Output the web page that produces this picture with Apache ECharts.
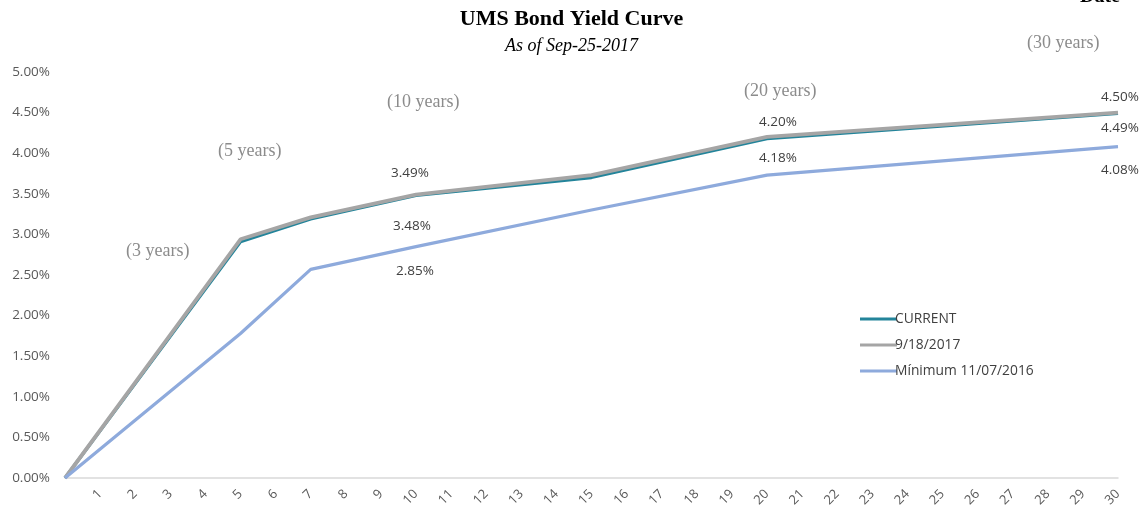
<!DOCTYPE html>
<html>
<head>
<meta charset="utf-8">
<script src="https://cdn.jsdelivr.net/npm/echarts@6/dist/echarts.min.js"></script>
<style>html,body{margin:0;padding:0;background:#fff}#c{width:1143px;height:512px}</style>
</head>
<body>
<div id="c"></div>
<script>
const maturities = [0, 5, 7, 10, 15, 20, 30];
const current = [0, 2.91, 3.19, 3.48, 3.70, 4.18, 4.49];
const prevWeek = [0, 2.94, 3.21, 3.49, 3.73, 4.20, 4.50];
const minimum = [0, 1.78, 2.57, 2.85, 3.30, 3.73, 4.08];
const seriesNames = ['CURRENT', '9/18/2017', 'Mínimum 11/07/2016'];
const labelCurrent = { 10: 'bottom', 20: 'bottom', 30: 'bottom' };
const labelPrev = { 10: 'top', 20: 'top', 30: 'top' };
const labelMin = { 10: 'bottom', 30: 'bottom' };
const annotations = ['(3 years)', '(5 years)', '(10 years)', '(20 years)', '(30 years)'];

const labelStyle = { fontFamily: 'Open Sans', fontSize: 13.5, color: '#404040' };
function build(vals, labels, offsets) {
  return maturities.map((m, i) => {
    const item = { value: [m, vals[i]] };
    if (labels[m]) {
      item.label = Object.assign({ show: true, position: labels[m], distance: 8,
        offset: offsets[m] || [0, 0],
        formatter: p => p.value[1].toFixed(2) + '%' }, labelStyle);
    }
    return item;
  });
}

const chart = echarts.init(document.getElementById('c'));
const annStyle = { fontFamily: 'Liberation Serif', fontSize: 18, fill: '#8c8c8c' };
const lineCommon = { type: 'line', showSymbol: true, symbol: 'circle', symbolSize: 0.01, label: { show: false } };
chart.setOption({
  animation: false,
  title: {
    text: 'UMS Bond Yield Curve',
    subtext: 'As of Sep-25-2017',
    left: 'center', top: 3, itemGap: 7,
    textStyle: { fontFamily: 'Liberation Serif', fontWeight: 'bold', fontSize: 22, color: '#000' },
    subtextStyle: { fontFamily: 'Liberation Serif', fontStyle: 'italic', fontSize: 18, color: '#000' }
  },
  legend: {
    orient: 'vertical', left: 855, top: 307, itemGap: 12,
    itemWidth: 37, itemHeight: 3, icon: 'rect',
    textStyle: { fontFamily: 'Open Sans', fontSize: 13.8, color: '#404040', padding: [0, 0, 0, -7] },
    data: seriesNames
  },
  grid: { left: 65, right: 25, top: 72, bottom: 34 },
  xAxis: {
    type: 'value', min: 0, max: 30, interval: 1,
    axisLine: { lineStyle: { color: '#D9D9D9', width: 1.5 } },
    axisTick: { show: false },
    splitLine: { show: false },
    axisLabel: {
      rotate: 45, margin: 14, fontFamily: 'Open Sans', fontSize: 13, color: '#595959',
      formatter: v => v === 0 ? '' : String(v)
    }
  },
  yAxis: {
    type: 'value', min: 0, max: 5, interval: 0.5,
    axisLine: { show: false }, axisTick: { show: false }, splitLine: { show: false },
    axisLabel: { margin: 15, fontFamily: 'Open Sans', fontSize: 13.5, color: '#595959',
      formatter: v => v.toFixed(2) + '%' }
  },
  series: [
    Object.assign({}, lineCommon, { name: seriesNames[0], z: 2,
      lineStyle: { color: '#23849A', width: 3.2 }, itemStyle: { color: '#23849A' },
      data: build(current, labelCurrent, { 10: [-4, 16], 20: [11, 5], 30: [2, 0] }) }),
    Object.assign({}, lineCommon, { name: seriesNames[1], z: 3,
      lineStyle: { color: '#A5A5A5', width: 3.8 }, itemStyle: { color: '#A5A5A5' },
      data: build(prevWeek, labelPrev, { 10: [-6, -6], 20: [11, 0], 30: [2, 0] }) }),
    Object.assign({}, lineCommon, { name: seriesNames[2], z: 4,
      lineStyle: { color: '#8EAADC', width: 3.2 }, itemStyle: { color: '#8EAADC' },
      data: build(minimum, labelMin, { 10: [-1, 10], 30: [2, 8] }) })
  ],
  graphic: [
    { type: 'text', left: 126, top: 242, style: Object.assign({ text: annotations[0] }, annStyle) },
    { type: 'text', left: 218, top: 142, style: Object.assign({ text: annotations[1] }, annStyle) },
    { type: 'text', left: 387, top: 93, style: Object.assign({ text: annotations[2] }, annStyle) },
    { type: 'text', left: 744, top: 82, style: Object.assign({ text: annotations[3] }, annStyle) },
    { type: 'text', left: 1027, top: 34, style: Object.assign({ text: annotations[4] }, annStyle) },
    { type: 'text', left: 1080, top: -13, style: { text: 'Date', fontFamily: 'Liberation Serif', fontWeight: 'bold', fontSize: 20, fill: '#000' } }
  ]
});
</script>
</body>
</html>
